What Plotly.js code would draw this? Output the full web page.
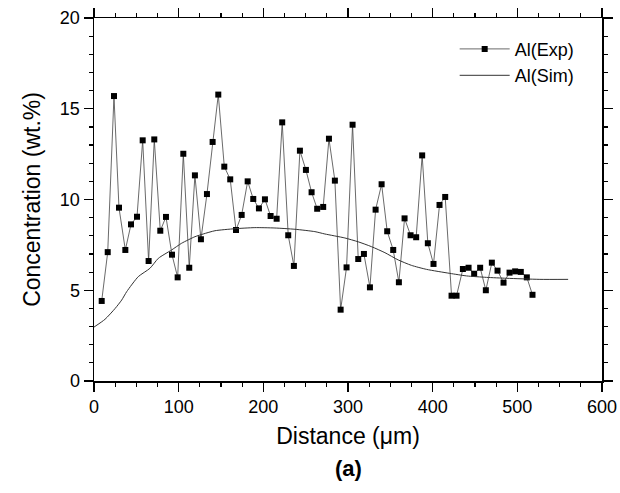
<!DOCTYPE html>
<html>
<head>
<meta charset="utf-8">
<script src="https://cdn.plot.ly/plotly-3.0.1.min.js"></script>
<style>html,body{margin:0;padding:0;background:#fff;}#chart{width:620px;height:493px;}</style>
</head>
<body>
<div id="chart"></div>
<script>
// Experimental data: Al(Exp)
const expX = [9.1, 16.2, 23.6, 29.5, 37.0, 43.7, 50.8, 57.5, 64.5, 71.2, 78.3, 85.0, 92.1, 98.8, 105.5, 112.5, 119.2, 126.3,
  133.4, 140.1, 146.8, 153.9, 160.9, 167.7, 174.4, 181.5, 188.1, 194.8, 201.9, 208.6, 215.7, 222.3, 229.4, 236.1, 243.2, 250.3, 257.0,
  263.6, 270.7, 277.5, 284.5, 291.3, 298.3, 305.4, 312.1, 318.8, 325.9, 332.6, 339.7, 346.3, 353.4, 360.1, 366.8, 373.9, 380.5, 387.6,
  394.3, 401.0, 408.1, 414.8, 422.3, 428.2, 435.7, 442.4, 449.0, 456.1, 462.8, 469.9, 476.6, 483.7, 490.8, 497.4, 504.1, 511.2, 517.9];
const expY = [4.41, 7.1, 15.7, 9.55, 7.22, 8.63, 9.05, 13.26, 6.61, 13.31, 8.28, 9.04, 6.96, 5.71, 12.52, 6.24, 11.33, 7.81,
  10.3, 13.17, 15.78, 11.81, 11.11, 8.32, 9.15, 11.0, 10.03, 9.51, 10.01, 9.09, 8.94, 14.25, 8.03, 6.34, 12.69, 11.63, 10.4,
  9.49, 9.59, 13.35, 11.04, 3.93, 6.26, 14.12, 6.72, 7.0, 5.16, 9.44, 10.84, 8.25, 7.22, 5.44, 8.96, 8.03, 7.92, 12.43,
  7.59, 6.45, 9.70, 10.14, 4.70, 4.70, 6.17, 6.24, 5.91, 6.24, 5.0, 6.52, 6.08, 5.42, 5.97, 6.04, 6.01, 5.71, 4.75];

// Simulated curve: Al(Sim)
const simX = [0, 13, 25, 32.7, 38.6, 52.3, 66.1, 76, 91.7, 103.5, 119.2, 129, 142.9, 166.5, 190, 213.7, 237.3, 260.9,
  272.7, 296.3, 312, 327.8, 343.6, 359.3, 375, 392.8, 420.3, 440, 463.6, 487.2, 526.6, 560];
const simY = [2.97, 3.4, 4.0, 4.46, 4.92, 5.75, 6.21, 6.76, 7.22, 7.59, 7.95, 8.1, 8.28, 8.39, 8.45, 8.43, 8.36, 8.23,
  8.1, 7.88, 7.67, 7.4, 7.07, 6.67, 6.37, 6.15, 5.93, 5.79, 5.71, 5.66, 5.6, 5.6];

const xTicks = [0, 100, 200, 300, 400, 500, 600];
const yTicks = [0, 5, 10, 15, 20];

const FONT = 'Liberation Sans, Arial, Helvetica, sans-serif';

const traces = [
  {
    x: expX, y: expY, name: 'Al(Exp)', type: 'scatter', mode: 'lines+markers',
    line: {color: '#444', width: 0.8},
    marker: {symbol: 'square', size: 6, color: '#000'}
  },
  {
    x: simX, y: simY, name: 'Al(Sim)', type: 'scatter', mode: 'lines',
    line: {color: '#333', width: 1, shape: 'spline', smoothing: 0.6}
  }
];

const axisCommon = {
  showgrid: false, zeroline: false, showline: true, linecolor: '#000', linewidth: 1.5,
  mirror: 'allticks', ticks: 'outside', ticklen: 9, tickwidth: 1.2, tickcolor: '#000',
  tickfont: {family: FONT, size: 18, color: '#000'}
};

const layout = {
  width: 620, height: 493,
  margin: {l: 94, r: 18, t: 18, b: 112},
  paper_bgcolor: '#fff', plot_bgcolor: '#fff',
  showlegend: true,
  legend: {
    x: 0.71, xanchor: 'left', y: 0.965, yanchor: 'top',
    bgcolor: 'rgba(0,0,0,0)', borderwidth: 0,
    font: {family: FONT, size: 18, color: '#000'},
    itemwidth: 50, tracegroupgap: 0
  },
  xaxis: Object.assign({}, axisCommon, {
    range: [0, 600], tickvals: xTicks, ticktext: xTicks.map(String),
    minor: {dtick: 25, ticks: 'outside', ticklen: 4, tickwidth: 1.2, tickcolor: '#000'},
    title: {text: 'Distance (\u03bcm)', font: {family: FONT, size: 23, color: '#000'}, standoff: 12}
  }),
  yaxis: Object.assign({}, axisCommon, {
    range: [0, 20], tickvals: yTicks, ticktext: yTicks.map(String),
    minor: {dtick: 1, ticks: 'outside', ticklen: 4, tickwidth: 1.2, tickcolor: '#000'},
    title: {text: 'Concentration (wt.%)', font: {family: FONT, size: 23, color: '#000'}, standoff: 13}
  }),
  annotations: [{
    text: '<b>(a)</b>', xref: 'paper', yref: 'paper', x: 0.5, y: -0.24, xanchor: 'center', yanchor: 'middle',
    showarrow: false, font: {family: FONT, size: 22, color: '#000'}
  }]
};

Plotly.newPlot('chart', traces, layout, {displayModeBar: false, staticPlot: true});
</script>
</body>
</html>
